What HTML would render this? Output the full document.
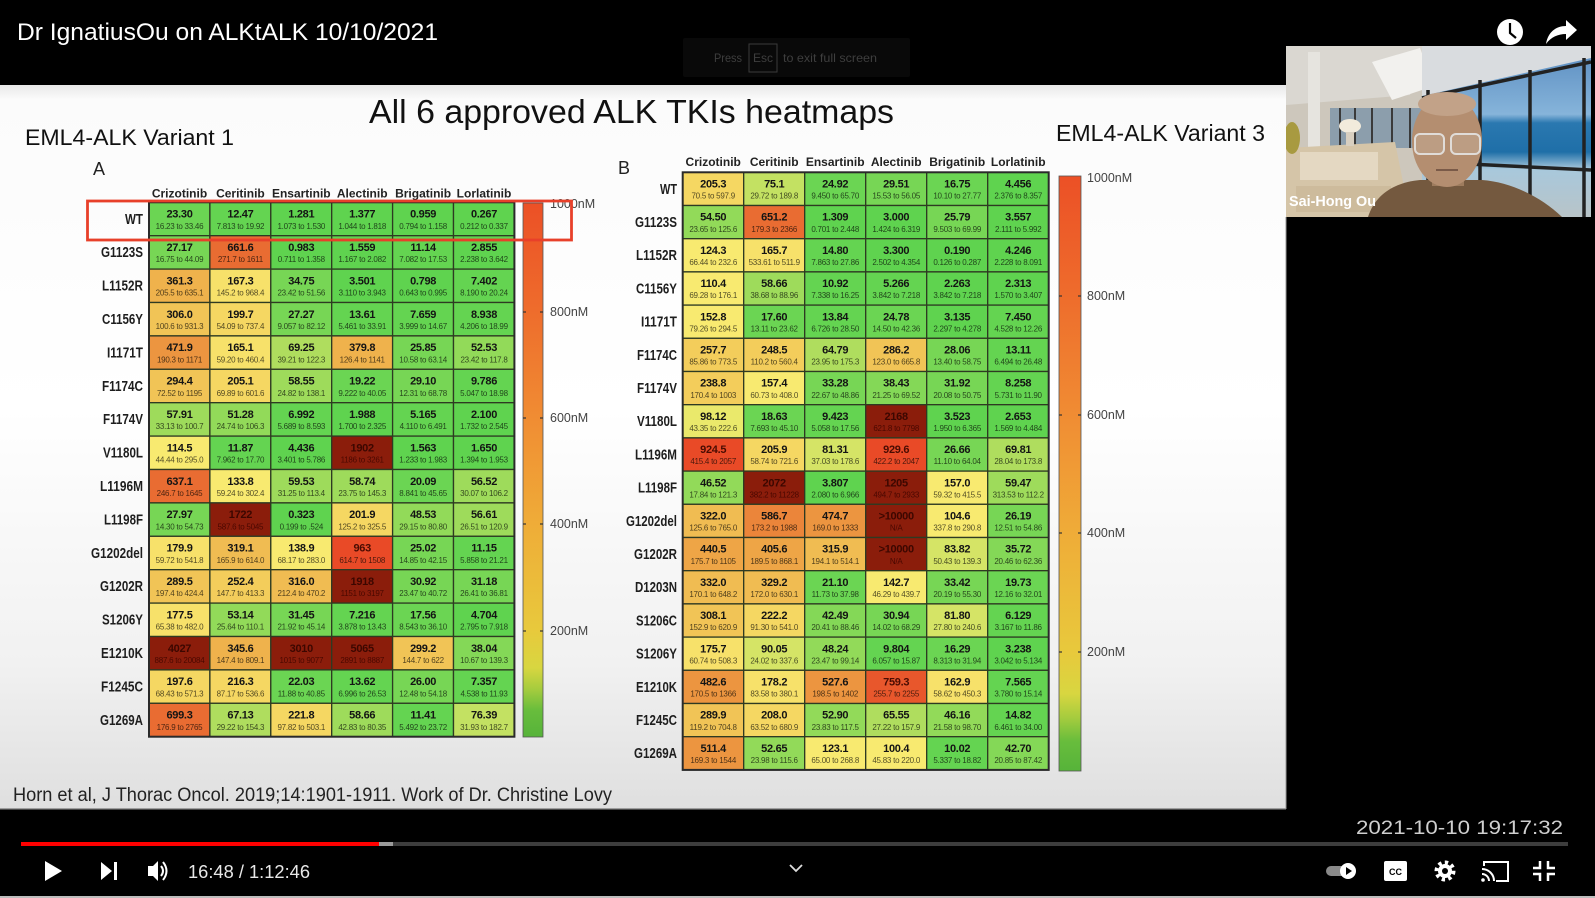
<!DOCTYPE html>
<html><head><meta charset="utf-8"><style>
body{margin:0;background:#000;width:1595px;height:898px;overflow:hidden}
svg{display:block}
text{font-family:"Liberation Sans",sans-serif}
.v{font-weight:bold;font-size:11px;fill:#141414;text-anchor:middle;letter-spacing:-0.3px}
.r{font-size:8px;fill:#000;fill-opacity:.68;text-anchor:middle;letter-spacing:-0.25px}
.vd{fill:#3c0700}.rd{fill:#4a0800;fill-opacity:1}.vr{fill:#4a0c02}
.l{font-weight:bold;font-size:14.5px;fill:#1e1e1e;text-anchor:end}
.h{font-weight:bold;font-size:12px;fill:#222;text-anchor:middle}
.c{stroke:#2e3a22;stroke-width:1.3}
.cb{font-size:12.5px;fill:#444}
.g0{fill:#5fd34f}.g1{fill:#64d451}.g2{fill:#6bd553}.g3{fill:#77d655}.g4{fill:#84d857}.g5{fill:#92da59}.g6{fill:#9edb5b}.g7{fill:#afdd5e}.g8{fill:#c3e162}.g9{fill:#d5e466}.g10{fill:#eae96b}
.y1{fill:#f8ea70}.y2{fill:#f7e16a}.y3{fill:#f5d762}.y4{fill:#f3cd5b}.y5{fill:#f1c456}.y6{fill:#f0bc52}
.o1{fill:#efb24c}.o2{fill:#eea546}.o3{fill:#ec9540}.o4{fill:#eb853a}.o5{fill:#e96c32}.r1{fill:#e8572c}.r2{fill:#e94a27}.d{fill:#8b1d0b}
</style></head><body>
<svg width="1595" height="898" viewBox="0 0 1595 898" xmlns="http://www.w3.org/2000/svg">
<defs>
<linearGradient id="sl" x1="0" y1="0" x2="0" y2="1">
<stop offset="0" stop-color="#e8e8e8"/><stop offset="0.02" stop-color="#fbfbfb"/><stop offset="0.45" stop-color="#ffffff"/><stop offset="0.8" stop-color="#f1f1f1"/><stop offset="1" stop-color="#dfdfdf"/>
</linearGradient>
<linearGradient id="cbg" x1="0" y1="1" x2="0" y2="0">
<stop offset="0" stop-color="#56b33a"/><stop offset="0.05" stop-color="#68bd3c"/><stop offset="0.09" stop-color="#a6cc3e"/><stop offset="0.13" stop-color="#d8d640"/><stop offset="0.2" stop-color="#e8c93c"/><stop offset="0.4" stop-color="#efac38"/><stop offset="0.6" stop-color="#f08c33"/><stop offset="0.8" stop-color="#ee6c2c"/><stop offset="1" stop-color="#ec5026"/>
</linearGradient>
<linearGradient id="sky" x1="0" y1="0" x2="0" y2="1">
<stop offset="0" stop-color="#5a8cc0"/><stop offset="0.4" stop-color="#86b4da"/><stop offset="0.45" stop-color="#2a78b0"/><stop offset="0.62" stop-color="#1f6fa8"/><stop offset="0.72" stop-color="#a8c8dc"/><stop offset="1" stop-color="#b8c4c8"/>
</linearGradient>
<clipPath id="cam"><rect x="1286" y="46" width="305" height="171"/></clipPath>
</defs>

<!-- top bar -->
<rect x="0" y="0" width="1595" height="898" fill="#000"/>
<text x="17" y="40" font-size="24" fill="#fff" textLength="421" lengthAdjust="spacingAndGlyphs">Dr IgnatiusOu on ALKtALK 10/10/2021</text>
<rect x="683" y="38" width="227" height="39" fill="#090909" rx="2"/>
<text x="714" y="62" font-size="12" fill="#3e3e3e" textLength="28" lengthAdjust="spacingAndGlyphs">Press</text>
<rect x="749" y="44" width="28" height="28" fill="none" stroke="#3a3a3a" stroke-width="1"/>
<text x="763" y="62" font-size="12" fill="#3e3e3e" text-anchor="middle">Esc</text>
<text x="783" y="62" font-size="12" fill="#3e3e3e" textLength="94" lengthAdjust="spacingAndGlyphs">to exit full screen</text>

<!-- clock & share -->
<circle cx="1510" cy="32" r="13" fill="#fff"/>
<path d="M1510 23 V33 L1516 38" stroke="#000" stroke-width="2.2" fill="none"/>
<path d="M1546 44 C1548 32 1556 26 1566 26 V20 L1577 30 L1566 40 V34 C1558 34 1551 37 1546 44 Z" fill="#fff"/>

<!-- slide -->
<rect x="0" y="85" width="1286" height="724" fill="url(#sl)"/>
<line x1="0" y1="809" x2="1286" y2="809" stroke="#777" stroke-width="1.2"/>
<line x1="1286" y1="217" x2="1286" y2="809" stroke="#999" stroke-width="1"/>

<text x="369" y="123" font-size="33" fill="#111" textLength="525" lengthAdjust="spacingAndGlyphs">All 6 approved ALK TKIs heatmaps</text>
<text x="25" y="145" font-size="22" fill="#111" textLength="209" lengthAdjust="spacingAndGlyphs">EML4-ALK Variant 1</text>
<text x="1056" y="141" font-size="23" fill="#111" textLength="209" lengthAdjust="spacingAndGlyphs">EML4-ALK Variant 3</text>
<text x="93" y="175" font-size="18" fill="#222">A</text>
<text x="618" y="174" font-size="18" fill="#222">B</text>
<text x="13" y="801" font-size="19" fill="#222" textLength="599" lengthAdjust="spacingAndGlyphs">Horn et al, J Thorac Oncol. 2019;14:1901-1911. Work of Dr. Christine Lovy</text>

<!-- Heatmap A headers -->
<text class="h" x="179.5" y="197.5">Crizotinib</text>
<text class="h" x="240.4" y="197.5">Ceritinib</text>
<text class="h" x="301.3" y="197.5">Ensartinib</text>
<text class="h" x="362.2" y="197.5">Alectinib</text>
<text class="h" x="423.1" y="197.5">Brigatinib</text>
<text class="h" x="484" y="197.5">Lorlatinib</text>

<!-- Heatmap A rows -->
<g transform="translate(0,202.3)"><text class="l" x="143" y="21.5" textLength="18" lengthAdjust="spacingAndGlyphs">WT</text>
<rect class="c g2" x="149" width="60.9" height="33.4"/><text class="v" x="179.5" y="15.3">23.30</text><text class="r" x="179.5" y="26.5">16.23 to 33.46</text>
<rect class="c g1" x="209.9" width="60.9" height="33.4"/><text class="v" x="240.4" y="15.3">12.47</text><text class="r" x="240.4" y="26.5">7.813 to 19.92</text>
<rect class="c g0" x="270.8" width="60.9" height="33.4"/><text class="v" x="301.3" y="15.3">1.281</text><text class="r" x="301.3" y="26.5">1.073 to 1.530</text>
<rect class="c g0" x="331.7" width="60.9" height="33.4"/><text class="v" x="362.2" y="15.3">1.377</text><text class="r" x="362.2" y="26.5">1.044 to 1.818</text>
<rect class="c g0" x="392.6" width="60.9" height="33.4"/><text class="v" x="423.1" y="15.3">0.959</text><text class="r" x="423.1" y="26.5">0.794 to 1.158</text>
<rect class="c g0" x="453.5" width="60.9" height="33.4"/><text class="v" x="484" y="15.3">0.267</text><text class="r" x="484" y="26.5">0.212 to 0.337</text>
</g>
<g transform="translate(0,235.7)"><text class="l" x="143" y="21.5" textLength="42" lengthAdjust="spacingAndGlyphs">G1123S</text>
<rect class="c g3" x="149" width="60.9" height="33.4"/><text class="v" x="179.5" y="15.3">27.17</text><text class="r" x="179.5" y="26.5">16.75 to 44.09</text>
<rect class="c o5" x="209.9" width="60.9" height="33.4"/><text class="v" x="240.4" y="15.3">661.6</text><text class="r" x="240.4" y="26.5">271.7 to 1611</text>
<rect class="c g0" x="270.8" width="60.9" height="33.4"/><text class="v" x="301.3" y="15.3">0.983</text><text class="r" x="301.3" y="26.5">0.711 to 1.358</text>
<rect class="c g0" x="331.7" width="60.9" height="33.4"/><text class="v" x="362.2" y="15.3">1.559</text><text class="r" x="362.2" y="26.5">1.167 to 2.082</text>
<rect class="c g1" x="392.6" width="60.9" height="33.4"/><text class="v" x="423.1" y="15.3">11.14</text><text class="r" x="423.1" y="26.5">7.082 to 17.53</text>
<rect class="c g0" x="453.5" width="60.9" height="33.4"/><text class="v" x="484" y="15.3">2.855</text><text class="r" x="484" y="26.5">2.238 to 3.642</text>
</g>
<g transform="translate(0,269.1)"><text class="l" x="143" y="21.5" textLength="41" lengthAdjust="spacingAndGlyphs">L1152R</text>
<rect class="c o1" x="149" width="60.9" height="33.4"/><text class="v" x="179.5" y="15.3">361.3</text><text class="r" x="179.5" y="26.5">205.5 to 635.1</text>
<rect class="c y2" x="209.9" width="60.9" height="33.4"/><text class="v" x="240.4" y="15.3">167.3</text><text class="r" x="240.4" y="26.5">145.2 to 968.4</text>
<rect class="c g3" x="270.8" width="60.9" height="33.4"/><text class="v" x="301.3" y="15.3">34.75</text><text class="r" x="301.3" y="26.5">23.42 to 51.56</text>
<rect class="c g0" x="331.7" width="60.9" height="33.4"/><text class="v" x="362.2" y="15.3">3.501</text><text class="r" x="362.2" y="26.5">3.110 to 3.943</text>
<rect class="c g0" x="392.6" width="60.9" height="33.4"/><text class="v" x="423.1" y="15.3">0.798</text><text class="r" x="423.1" y="26.5">0.643 to 0.995</text>
<rect class="c g1" x="453.5" width="60.9" height="33.4"/><text class="v" x="484" y="15.3">7.402</text><text class="r" x="484" y="26.5">8.190 to 20.24</text>
</g>
<g transform="translate(0,302.5)"><text class="l" x="143" y="21.5" textLength="41" lengthAdjust="spacingAndGlyphs">C1156Y</text>
<rect class="c y5" x="149" width="60.9" height="33.4"/><text class="v" x="179.5" y="15.3">306.0</text><text class="r" x="179.5" y="26.5">100.6 to 931.3</text>
<rect class="c y3" x="209.9" width="60.9" height="33.4"/><text class="v" x="240.4" y="15.3">199.7</text><text class="r" x="240.4" y="26.5">54.09 to 737.4</text>
<rect class="c g3" x="270.8" width="60.9" height="33.4"/><text class="v" x="301.3" y="15.3">27.27</text><text class="r" x="301.3" y="26.5">9.057 to 82.12</text>
<rect class="c g1" x="331.7" width="60.9" height="33.4"/><text class="v" x="362.2" y="15.3">13.61</text><text class="r" x="362.2" y="26.5">5.461 to 33.91</text>
<rect class="c g1" x="392.6" width="60.9" height="33.4"/><text class="v" x="423.1" y="15.3">7.659</text><text class="r" x="423.1" y="26.5">3.999 to 14.67</text>
<rect class="c g1" x="453.5" width="60.9" height="33.4"/><text class="v" x="484" y="15.3">8.938</text><text class="r" x="484" y="26.5">4.206 to 18.99</text>
</g>
<g transform="translate(0,335.9)"><text class="l" x="143" y="21.5" textLength="36" lengthAdjust="spacingAndGlyphs">I1171T</text>
<rect class="c o3" x="149" width="60.9" height="33.4"/><text class="v" x="179.5" y="15.3">471.9</text><text class="r" x="179.5" y="26.5">190.3 to 1171</text>
<rect class="c y2" x="209.9" width="60.9" height="33.4"/><text class="v" x="240.4" y="15.3">165.1</text><text class="r" x="240.4" y="26.5">59.20 to 460.4</text>
<rect class="c g7" x="270.8" width="60.9" height="33.4"/><text class="v" x="301.3" y="15.3">69.25</text><text class="r" x="301.3" y="26.5">39.21 to 122.3</text>
<rect class="c o1" x="331.7" width="60.9" height="33.4"/><text class="v" x="362.2" y="15.3">379.8</text><text class="r" x="362.2" y="26.5">126.4 to 1141</text>
<rect class="c g3" x="392.6" width="60.9" height="33.4"/><text class="v" x="423.1" y="15.3">25.85</text><text class="r" x="423.1" y="26.5">10.58 to 63.14</text>
<rect class="c g5" x="453.5" width="60.9" height="33.4"/><text class="v" x="484" y="15.3">52.53</text><text class="r" x="484" y="26.5">23.42 to 117.8</text>
</g>
<g transform="translate(0,369.3)"><text class="l" x="143" y="21.5" textLength="41" lengthAdjust="spacingAndGlyphs">F1174C</text>
<rect class="c y5" x="149" width="60.9" height="33.4"/><text class="v" x="179.5" y="15.3">294.4</text><text class="r" x="179.5" y="26.5">72.52 to 1195</text>
<rect class="c y3" x="209.9" width="60.9" height="33.4"/><text class="v" x="240.4" y="15.3">205.1</text><text class="r" x="240.4" y="26.5">69.89 to 601.6</text>
<rect class="c g6" x="270.8" width="60.9" height="33.4"/><text class="v" x="301.3" y="15.3">58.55</text><text class="r" x="301.3" y="26.5">24.82 to 138.1</text>
<rect class="c g2" x="331.7" width="60.9" height="33.4"/><text class="v" x="362.2" y="15.3">19.22</text><text class="r" x="362.2" y="26.5">9.222 to 40.05</text>
<rect class="c g3" x="392.6" width="60.9" height="33.4"/><text class="v" x="423.1" y="15.3">29.10</text><text class="r" x="423.1" y="26.5">12.31 to 68.78</text>
<rect class="c g1" x="453.5" width="60.9" height="33.4"/><text class="v" x="484" y="15.3">9.786</text><text class="r" x="484" y="26.5">5.047 to 18.98</text>
</g>
<g transform="translate(0,402.7)"><text class="l" x="143" y="21.5" textLength="40" lengthAdjust="spacingAndGlyphs">F1174V</text>
<rect class="c g6" x="149" width="60.9" height="33.4"/><text class="v" x="179.5" y="15.3">57.91</text><text class="r" x="179.5" y="26.5">33.13 to 100.7</text>
<rect class="c g5" x="209.9" width="60.9" height="33.4"/><text class="v" x="240.4" y="15.3">51.28</text><text class="r" x="240.4" y="26.5">24.74 to 106.3</text>
<rect class="c g1" x="270.8" width="60.9" height="33.4"/><text class="v" x="301.3" y="15.3">6.992</text><text class="r" x="301.3" y="26.5">5.689 to 8.593</text>
<rect class="c g0" x="331.7" width="60.9" height="33.4"/><text class="v" x="362.2" y="15.3">1.988</text><text class="r" x="362.2" y="26.5">1.700 to 2.325</text>
<rect class="c g1" x="392.6" width="60.9" height="33.4"/><text class="v" x="423.1" y="15.3">5.165</text><text class="r" x="423.1" y="26.5">4.110 to 6.491</text>
<rect class="c g0" x="453.5" width="60.9" height="33.4"/><text class="v" x="484" y="15.3">2.100</text><text class="r" x="484" y="26.5">1.732 to 2.545</text>
</g>
<g transform="translate(0,436.1)"><text class="l" x="143" y="21.5" textLength="40" lengthAdjust="spacingAndGlyphs">V1180L</text>
<rect class="c y1" x="149" width="60.9" height="33.4"/><text class="v" x="179.5" y="15.3">114.5</text><text class="r" x="179.5" y="26.5">44.44 to 295.0</text>
<rect class="c g1" x="209.9" width="60.9" height="33.4"/><text class="v" x="240.4" y="15.3">11.87</text><text class="r" x="240.4" y="26.5">7.962 to 17.70</text>
<rect class="c g0" x="270.8" width="60.9" height="33.4"/><text class="v" x="301.3" y="15.3">4.436</text><text class="r" x="301.3" y="26.5">3.401 to 5.786</text>
<rect class="c d" x="331.7" width="60.9" height="33.4"/><text class="v vd" x="362.2" y="15.3">1902</text><text class="r rd" x="362.2" y="26.5">1186 to 3261</text>
<rect class="c g0" x="392.6" width="60.9" height="33.4"/><text class="v" x="423.1" y="15.3">1.563</text><text class="r" x="423.1" y="26.5">1.233 to 1.983</text>
<rect class="c g0" x="453.5" width="60.9" height="33.4"/><text class="v" x="484" y="15.3">1.650</text><text class="r" x="484" y="26.5">1.394 to 1.953</text>
</g>
<g transform="translate(0,469.5)"><text class="l" x="143" y="21.5" textLength="43" lengthAdjust="spacingAndGlyphs">L1196M</text>
<rect class="c o5" x="149" width="60.9" height="33.4"/><text class="v" x="179.5" y="15.3">637.1</text><text class="r" x="179.5" y="26.5">246.7 to 1645</text>
<rect class="c y1" x="209.9" width="60.9" height="33.4"/><text class="v" x="240.4" y="15.3">133.8</text><text class="r" x="240.4" y="26.5">59.24 to 302.4</text>
<rect class="c g6" x="270.8" width="60.9" height="33.4"/><text class="v" x="301.3" y="15.3">59.53</text><text class="r" x="301.3" y="26.5">31.25 to 113.4</text>
<rect class="c g6" x="331.7" width="60.9" height="33.4"/><text class="v" x="362.2" y="15.3">58.74</text><text class="r" x="362.2" y="26.5">23.75 to 145.3</text>
<rect class="c g2" x="392.6" width="60.9" height="33.4"/><text class="v" x="423.1" y="15.3">20.09</text><text class="r" x="423.1" y="26.5">8.841 to 45.65</text>
<rect class="c g6" x="453.5" width="60.9" height="33.4"/><text class="v" x="484" y="15.3">56.52</text><text class="r" x="484" y="26.5">30.07 to 106.2</text>
</g>
<g transform="translate(0,502.9)"><text class="l" x="143" y="21.5" textLength="39" lengthAdjust="spacingAndGlyphs">L1198F</text>
<rect class="c g3" x="149" width="60.9" height="33.4"/><text class="v" x="179.5" y="15.3">27.97</text><text class="r" x="179.5" y="26.5">14.30 to 54.73</text>
<rect class="c d" x="209.9" width="60.9" height="33.4"/><text class="v vd" x="240.4" y="15.3">1722</text><text class="r rd" x="240.4" y="26.5">587.6 to 5045</text>
<rect class="c g0" x="270.8" width="60.9" height="33.4"/><text class="v" x="301.3" y="15.3">0.323</text><text class="r" x="301.3" y="26.5">0.199 to .524</text>
<rect class="c y3" x="331.7" width="60.9" height="33.4"/><text class="v" x="362.2" y="15.3">201.9</text><text class="r" x="362.2" y="26.5">125.2 to 325.5</text>
<rect class="c g5" x="392.6" width="60.9" height="33.4"/><text class="v" x="423.1" y="15.3">48.53</text><text class="r" x="423.1" y="26.5">29.15 to 80.80</text>
<rect class="c g6" x="453.5" width="60.9" height="33.4"/><text class="v" x="484" y="15.3">56.61</text><text class="r" x="484" y="26.5">26.51 to 120.9</text>
</g>
<g transform="translate(0,536.3)"><text class="l" x="143" y="21.5" textLength="52" lengthAdjust="spacingAndGlyphs">G1202del</text>
<rect class="c y2" x="149" width="60.9" height="33.4"/><text class="v" x="179.5" y="15.3">179.9</text><text class="r" x="179.5" y="26.5">59.72 to 541.8</text>
<rect class="c y6" x="209.9" width="60.9" height="33.4"/><text class="v" x="240.4" y="15.3">319.1</text><text class="r" x="240.4" y="26.5">165.9 to 614.0</text>
<rect class="c y1" x="270.8" width="60.9" height="33.4"/><text class="v" x="301.3" y="15.3">138.9</text><text class="r" x="301.3" y="26.5">68.17 to 283.0</text>
<rect class="c r2" x="331.7" width="60.9" height="33.4"/><text class="v vr" x="362.2" y="15.3">963</text><text class="r" x="362.2" y="26.5">614.7 to 1508</text>
<rect class="c g3" x="392.6" width="60.9" height="33.4"/><text class="v" x="423.1" y="15.3">25.02</text><text class="r" x="423.1" y="26.5">14.85 to 42.15</text>
<rect class="c g1" x="453.5" width="60.9" height="33.4"/><text class="v" x="484" y="15.3">11.15</text><text class="r" x="484" y="26.5">5.858 to 21.21</text>
</g>
<g transform="translate(0,569.7)"><text class="l" x="143" y="21.5" textLength="43" lengthAdjust="spacingAndGlyphs">G1202R</text>
<rect class="c y5" x="149" width="60.9" height="33.4"/><text class="v" x="179.5" y="15.3">289.5</text><text class="r" x="179.5" y="26.5">197.4 to 424.4</text>
<rect class="c y4" x="209.9" width="60.9" height="33.4"/><text class="v" x="240.4" y="15.3">252.4</text><text class="r" x="240.4" y="26.5">147.7 to 413.3</text>
<rect class="c y6" x="270.8" width="60.9" height="33.4"/><text class="v" x="301.3" y="15.3">316.0</text><text class="r" x="301.3" y="26.5">212.4 to 470.2</text>
<rect class="c d" x="331.7" width="60.9" height="33.4"/><text class="v vd" x="362.2" y="15.3">1918</text><text class="r rd" x="362.2" y="26.5">1151 to 3197</text>
<rect class="c g3" x="392.6" width="60.9" height="33.4"/><text class="v" x="423.1" y="15.3">30.92</text><text class="r" x="423.1" y="26.5">23.47 to 40.72</text>
<rect class="c g3" x="453.5" width="60.9" height="33.4"/><text class="v" x="484" y="15.3">31.18</text><text class="r" x="484" y="26.5">26.41 to 36.81</text>
</g>
<g transform="translate(0,603.1)"><text class="l" x="143" y="21.5" textLength="41" lengthAdjust="spacingAndGlyphs">S1206Y</text>
<rect class="c y2" x="149" width="60.9" height="33.4"/><text class="v" x="179.5" y="15.3">177.5</text><text class="r" x="179.5" y="26.5">65.38 to 482.0</text>
<rect class="c g5" x="209.9" width="60.9" height="33.4"/><text class="v" x="240.4" y="15.3">53.14</text><text class="r" x="240.4" y="26.5">25.64 to 110.1</text>
<rect class="c g3" x="270.8" width="60.9" height="33.4"/><text class="v" x="301.3" y="15.3">31.45</text><text class="r" x="301.3" y="26.5">21.92 to 45.14</text>
<rect class="c g1" x="331.7" width="60.9" height="33.4"/><text class="v" x="362.2" y="15.3">7.216</text><text class="r" x="362.2" y="26.5">3.878 to 13.43</text>
<rect class="c g2" x="392.6" width="60.9" height="33.4"/><text class="v" x="423.1" y="15.3">17.56</text><text class="r" x="423.1" y="26.5">8.543 to 36.10</text>
<rect class="c g0" x="453.5" width="60.9" height="33.4"/><text class="v" x="484" y="15.3">4.704</text><text class="r" x="484" y="26.5">2.795 to 7.918</text>
</g>
<g transform="translate(0,636.5)"><text class="l" x="143" y="21.5" textLength="42" lengthAdjust="spacingAndGlyphs">E1210K</text>
<rect class="c d" x="149" width="60.9" height="33.4"/><text class="v vd" x="179.5" y="15.3">4027</text><text class="r rd" x="179.5" y="26.5">887.6 to 20084</text>
<rect class="c o1" x="209.9" width="60.9" height="33.4"/><text class="v" x="240.4" y="15.3">345.6</text><text class="r" x="240.4" y="26.5">147.4 to 809.1</text>
<rect class="c d" x="270.8" width="60.9" height="33.4"/><text class="v vd" x="301.3" y="15.3">3010</text><text class="r rd" x="301.3" y="26.5">1015 to 9077</text>
<rect class="c d" x="331.7" width="60.9" height="33.4"/><text class="v vd" x="362.2" y="15.3">5065</text><text class="r rd" x="362.2" y="26.5">2891 to 8887</text>
<rect class="c y5" x="392.6" width="60.9" height="33.4"/><text class="v" x="423.1" y="15.3">299.2</text><text class="r" x="423.1" y="26.5">144.7 to 622</text>
<rect class="c g4" x="453.5" width="60.9" height="33.4"/><text class="v" x="484" y="15.3">38.04</text><text class="r" x="484" y="26.5">10.67 to 139.3</text>
</g>
<g transform="translate(0,669.9)"><text class="l" x="143" y="21.5" textLength="42" lengthAdjust="spacingAndGlyphs">F1245C</text>
<rect class="c y3" x="149" width="60.9" height="33.4"/><text class="v" x="179.5" y="15.3">197.6</text><text class="r" x="179.5" y="26.5">68.43 to 571.3</text>
<rect class="c y3" x="209.9" width="60.9" height="33.4"/><text class="v" x="240.4" y="15.3">216.3</text><text class="r" x="240.4" y="26.5">87.17 to 536.6</text>
<rect class="c g2" x="270.8" width="60.9" height="33.4"/><text class="v" x="301.3" y="15.3">22.03</text><text class="r" x="301.3" y="26.5">11.88 to 40.85</text>
<rect class="c g1" x="331.7" width="60.9" height="33.4"/><text class="v" x="362.2" y="15.3">13.62</text><text class="r" x="362.2" y="26.5">6.996 to 26.53</text>
<rect class="c g3" x="392.6" width="60.9" height="33.4"/><text class="v" x="423.1" y="15.3">26.00</text><text class="r" x="423.1" y="26.5">12.48 to 54.18</text>
<rect class="c g1" x="453.5" width="60.9" height="33.4"/><text class="v" x="484" y="15.3">7.357</text><text class="r" x="484" y="26.5">4.538 to 11.93</text>
</g>
<g transform="translate(0,703.3)"><text class="l" x="143" y="21.5" textLength="43" lengthAdjust="spacingAndGlyphs">G1269A</text>
<rect class="c o5" x="149" width="60.9" height="33.4"/><text class="v" x="179.5" y="15.3">699.3</text><text class="r" x="179.5" y="26.5">176.9 to 2765</text>
<rect class="c g7" x="209.9" width="60.9" height="33.4"/><text class="v" x="240.4" y="15.3">67.13</text><text class="r" x="240.4" y="26.5">29.22 to 154.3</text>
<rect class="c y3" x="270.8" width="60.9" height="33.4"/><text class="v" x="301.3" y="15.3">221.8</text><text class="r" x="301.3" y="26.5">97.82 to 503.1</text>
<rect class="c g6" x="331.7" width="60.9" height="33.4"/><text class="v" x="362.2" y="15.3">58.66</text><text class="r" x="362.2" y="26.5">42.83 to 80.35</text>
<rect class="c g1" x="392.6" width="60.9" height="33.4"/><text class="v" x="423.1" y="15.3">11.41</text><text class="r" x="423.1" y="26.5">5.492 to 23.72</text>
<rect class="c g8" x="453.5" width="60.9" height="33.4"/><text class="v" x="484" y="15.3">76.39</text><text class="r" x="484" y="26.5">31.93 to 182.7</text>
</g>
<rect x="149" y="202.3" width="365.4" height="534.4" fill="none" stroke="#2a2a2a" stroke-width="2"/>

<!-- colorbar A -->
<rect x="523" y="203" width="20" height="534" fill="url(#cbg)" stroke="#555" stroke-width="0.8"/>
<g stroke="#333" stroke-width="1.2">
<line x1="523" y1="312" x2="526" y2="312"/><line x1="540" y1="312" x2="543" y2="312"/>
<line x1="523" y1="418" x2="526" y2="418"/><line x1="540" y1="418" x2="543" y2="418"/>
<line x1="523" y1="524" x2="526" y2="524"/><line x1="540" y1="524" x2="543" y2="524"/>
<line x1="523" y1="631" x2="526" y2="631"/><line x1="540" y1="631" x2="543" y2="631"/>
</g>
<text class="cb" x="550" y="208">1000nM</text>
<text class="cb" x="550" y="316">800nM</text>
<text class="cb" x="550" y="422">600nM</text>
<text class="cb" x="550" y="528">400nM</text>
<text class="cb" x="550" y="635">200nM</text>

<!-- red box -->
<rect x="87.5" y="201" width="484" height="39" fill="none" stroke="#e8402a" stroke-width="2.8"/>

<!-- Heatmap B headers -->
<text class="h" x="713.2" y="166">Crizotinib</text>
<text class="h" x="774.2" y="166">Ceritinib</text>
<text class="h" x="835.2" y="166">Ensartinib</text>
<text class="h" x="896.2" y="166">Alectinib</text>
<text class="h" x="957.2" y="166">Brigatinib</text>
<text class="h" x="1018.2" y="166">Lorlatinib</text>

<!-- Heatmap B rows -->
<g transform="translate(0,172.3)"><text class="l" x="677" y="21.5" textLength="17" lengthAdjust="spacingAndGlyphs">WT</text>
<rect class="c y3" x="682.7" width="61" height="33.2"/><text class="v" x="713.2" y="15.2">205.3</text><text class="r" x="713.2" y="26.3">70.5 to 597.9</text>
<rect class="c g8" x="743.7" width="61" height="33.2"/><text class="v" x="774.2" y="15.2">75.1</text><text class="r" x="774.2" y="26.3">29.72 to 189.8</text>
<rect class="c g2" x="804.7" width="61" height="33.2"/><text class="v" x="835.2" y="15.2">24.92</text><text class="r" x="835.2" y="26.3">9.450 to 65.70</text>
<rect class="c g3" x="865.7" width="61" height="33.2"/><text class="v" x="896.2" y="15.2">29.51</text><text class="r" x="896.2" y="26.3">15.53 to 56.05</text>
<rect class="c g2" x="926.7" width="61" height="33.2"/><text class="v" x="957.2" y="15.2">16.75</text><text class="r" x="957.2" y="26.3">10.10 to 27.77</text>
<rect class="c g0" x="987.7" width="61" height="33.2"/><text class="v" x="1018.2" y="15.2">4.456</text><text class="r" x="1018.2" y="26.3">2.376 to 8.357</text>
</g>
<g transform="translate(0,205.5)"><text class="l" x="677" y="21.5" textLength="42" lengthAdjust="spacingAndGlyphs">G1123S</text>
<rect class="c g5" x="682.7" width="61" height="33.2"/><text class="v" x="713.2" y="15.2">54.50</text><text class="r" x="713.2" y="26.3">23.65 to 125.6</text>
<rect class="c o5" x="743.7" width="61" height="33.2"/><text class="v" x="774.2" y="15.2">651.2</text><text class="r" x="774.2" y="26.3">179.3 to 2366</text>
<rect class="c g0" x="804.7" width="61" height="33.2"/><text class="v" x="835.2" y="15.2">1.309</text><text class="r" x="835.2" y="26.3">0.701 to 2.448</text>
<rect class="c g0" x="865.7" width="61" height="33.2"/><text class="v" x="896.2" y="15.2">3.000</text><text class="r" x="896.2" y="26.3">1.424 to 6.319</text>
<rect class="c g3" x="926.7" width="61" height="33.2"/><text class="v" x="957.2" y="15.2">25.79</text><text class="r" x="957.2" y="26.3">9.503 to 69.99</text>
<rect class="c g0" x="987.7" width="61" height="33.2"/><text class="v" x="1018.2" y="15.2">3.557</text><text class="r" x="1018.2" y="26.3">2.111 to 5.992</text>
</g>
<g transform="translate(0,238.7)"><text class="l" x="677" y="21.5" textLength="41" lengthAdjust="spacingAndGlyphs">L1152R</text>
<rect class="c y1" x="682.7" width="61" height="33.2"/><text class="v" x="713.2" y="15.2">124.3</text><text class="r" x="713.2" y="26.3">66.44 to 232.6</text>
<rect class="c y2" x="743.7" width="61" height="33.2"/><text class="v" x="774.2" y="15.2">165.7</text><text class="r" x="774.2" y="26.3">533.61 to 511.9</text>
<rect class="c g1" x="804.7" width="61" height="33.2"/><text class="v" x="835.2" y="15.2">14.80</text><text class="r" x="835.2" y="26.3">7.863 to 27.86</text>
<rect class="c g0" x="865.7" width="61" height="33.2"/><text class="v" x="896.2" y="15.2">3.300</text><text class="r" x="896.2" y="26.3">2.502 to 4.354</text>
<rect class="c g0" x="926.7" width="61" height="33.2"/><text class="v" x="957.2" y="15.2">0.190</text><text class="r" x="957.2" y="26.3">0.126 to 0.287</text>
<rect class="c g0" x="987.7" width="61" height="33.2"/><text class="v" x="1018.2" y="15.2">4.246</text><text class="r" x="1018.2" y="26.3">2.228 to 8.091</text>
</g>
<g transform="translate(0,271.9)"><text class="l" x="677" y="21.5" textLength="41" lengthAdjust="spacingAndGlyphs">C1156Y</text>
<rect class="c y1" x="682.7" width="61" height="33.2"/><text class="v" x="713.2" y="15.2">110.4</text><text class="r" x="713.2" y="26.3">69.28 to 176.1</text>
<rect class="c g6" x="743.7" width="61" height="33.2"/><text class="v" x="774.2" y="15.2">58.66</text><text class="r" x="774.2" y="26.3">38.68 to 88.96</text>
<rect class="c g1" x="804.7" width="61" height="33.2"/><text class="v" x="835.2" y="15.2">10.92</text><text class="r" x="835.2" y="26.3">7.338 to 16.25</text>
<rect class="c g1" x="865.7" width="61" height="33.2"/><text class="v" x="896.2" y="15.2">5.266</text><text class="r" x="896.2" y="26.3">3.842 to 7.218</text>
<rect class="c g0" x="926.7" width="61" height="33.2"/><text class="v" x="957.2" y="15.2">2.263</text><text class="r" x="957.2" y="26.3">3.842 to 7.218</text>
<rect class="c g0" x="987.7" width="61" height="33.2"/><text class="v" x="1018.2" y="15.2">2.313</text><text class="r" x="1018.2" y="26.3">1.570 to 3.407</text>
</g>
<g transform="translate(0,305.1)"><text class="l" x="677" y="21.5" textLength="36" lengthAdjust="spacingAndGlyphs">I1171T</text>
<rect class="c y1" x="682.7" width="61" height="33.2"/><text class="v" x="713.2" y="15.2">152.8</text><text class="r" x="713.2" y="26.3">79.26 to 294.5</text>
<rect class="c g2" x="743.7" width="61" height="33.2"/><text class="v" x="774.2" y="15.2">17.60</text><text class="r" x="774.2" y="26.3">13.11 to 23.62</text>
<rect class="c g1" x="804.7" width="61" height="33.2"/><text class="v" x="835.2" y="15.2">13.84</text><text class="r" x="835.2" y="26.3">6.726 to 28.50</text>
<rect class="c g2" x="865.7" width="61" height="33.2"/><text class="v" x="896.2" y="15.2">24.78</text><text class="r" x="896.2" y="26.3">14.50 to 42.36</text>
<rect class="c g0" x="926.7" width="61" height="33.2"/><text class="v" x="957.2" y="15.2">3.135</text><text class="r" x="957.2" y="26.3">2.297 to 4.278</text>
<rect class="c g1" x="987.7" width="61" height="33.2"/><text class="v" x="1018.2" y="15.2">7.450</text><text class="r" x="1018.2" y="26.3">4.528 to 12.26</text>
</g>
<g transform="translate(0,338.3)"><text class="l" x="677" y="21.5" textLength="40" lengthAdjust="spacingAndGlyphs">F1174C</text>
<rect class="c y4" x="682.7" width="61" height="33.2"/><text class="v" x="713.2" y="15.2">257.7</text><text class="r" x="713.2" y="26.3">85.86 to 773.5</text>
<rect class="c y4" x="743.7" width="61" height="33.2"/><text class="v" x="774.2" y="15.2">248.5</text><text class="r" x="774.2" y="26.3">110.2 to 560.4</text>
<rect class="c g7" x="804.7" width="61" height="33.2"/><text class="v" x="835.2" y="15.2">64.79</text><text class="r" x="835.2" y="26.3">23.95 to 175.3</text>
<rect class="c y5" x="865.7" width="61" height="33.2"/><text class="v" x="896.2" y="15.2">286.2</text><text class="r" x="896.2" y="26.3">123.0 to 665.8</text>
<rect class="c g3" x="926.7" width="61" height="33.2"/><text class="v" x="957.2" y="15.2">28.06</text><text class="r" x="957.2" y="26.3">13.40 to 58.75</text>
<rect class="c g1" x="987.7" width="61" height="33.2"/><text class="v" x="1018.2" y="15.2">13.11</text><text class="r" x="1018.2" y="26.3">6.494 to 26.48</text>
</g>
<g transform="translate(0,371.5)"><text class="l" x="677" y="21.5" textLength="40" lengthAdjust="spacingAndGlyphs">F1174V</text>
<rect class="c y4" x="682.7" width="61" height="33.2"/><text class="v" x="713.2" y="15.2">238.8</text><text class="r" x="713.2" y="26.3">170.4 to 1003</text>
<rect class="c y1" x="743.7" width="61" height="33.2"/><text class="v" x="774.2" y="15.2">157.4</text><text class="r" x="774.2" y="26.3">60.73 to 408.0</text>
<rect class="c g3" x="804.7" width="61" height="33.2"/><text class="v" x="835.2" y="15.2">33.28</text><text class="r" x="835.2" y="26.3">22.67 to 48.86</text>
<rect class="c g4" x="865.7" width="61" height="33.2"/><text class="v" x="896.2" y="15.2">38.43</text><text class="r" x="896.2" y="26.3">21.25 to 69.52</text>
<rect class="c g3" x="926.7" width="61" height="33.2"/><text class="v" x="957.2" y="15.2">31.92</text><text class="r" x="957.2" y="26.3">20.08 to 50.75</text>
<rect class="c g1" x="987.7" width="61" height="33.2"/><text class="v" x="1018.2" y="15.2">8.258</text><text class="r" x="1018.2" y="26.3">5.731 to 11.90</text>
</g>
<g transform="translate(0,404.7)"><text class="l" x="677" y="21.5" textLength="40" lengthAdjust="spacingAndGlyphs">V1180L</text>
<rect class="c g10" x="682.7" width="61" height="33.2"/><text class="v" x="713.2" y="15.2">98.12</text><text class="r" x="713.2" y="26.3">43.35 to 222.6</text>
<rect class="c g2" x="743.7" width="61" height="33.2"/><text class="v" x="774.2" y="15.2">18.63</text><text class="r" x="774.2" y="26.3">7.693 to 45.10</text>
<rect class="c g1" x="804.7" width="61" height="33.2"/><text class="v" x="835.2" y="15.2">9.423</text><text class="r" x="835.2" y="26.3">5.058 to 17.56</text>
<rect class="c d" x="865.7" width="61" height="33.2"/><text class="v vd" x="896.2" y="15.2">2168</text><text class="r rd" x="896.2" y="26.3">621.8 to 7798</text>
<rect class="c g0" x="926.7" width="61" height="33.2"/><text class="v" x="957.2" y="15.2">3.523</text><text class="r" x="957.2" y="26.3">1.950 to 6.365</text>
<rect class="c g0" x="987.7" width="61" height="33.2"/><text class="v" x="1018.2" y="15.2">2.653</text><text class="r" x="1018.2" y="26.3">1.569 to 4.484</text>
</g>
<g transform="translate(0,437.9)"><text class="l" x="677" y="21.5" textLength="42" lengthAdjust="spacingAndGlyphs">L1196M</text>
<rect class="c r2" x="682.7" width="61" height="33.2"/><text class="v vr" x="713.2" y="15.2">924.5</text><text class="r" x="713.2" y="26.3">415.4 to 2057</text>
<rect class="c y3" x="743.7" width="61" height="33.2"/><text class="v" x="774.2" y="15.2">205.9</text><text class="r" x="774.2" y="26.3">58.74 to 721.6</text>
<rect class="c g9" x="804.7" width="61" height="33.2"/><text class="v" x="835.2" y="15.2">81.31</text><text class="r" x="835.2" y="26.3">37.03 to 178.6</text>
<rect class="c r2" x="865.7" width="61" height="33.2"/><text class="v vr" x="896.2" y="15.2">929.6</text><text class="r" x="896.2" y="26.3">422.2 to 2047</text>
<rect class="c g3" x="926.7" width="61" height="33.2"/><text class="v" x="957.2" y="15.2">26.66</text><text class="r" x="957.2" y="26.3">11.10 to 64.04</text>
<rect class="c g7" x="987.7" width="61" height="33.2"/><text class="v" x="1018.2" y="15.2">69.81</text><text class="r" x="1018.2" y="26.3">28.04 to 173.8</text>
</g>
<g transform="translate(0,471.1)"><text class="l" x="677" y="21.5" textLength="39" lengthAdjust="spacingAndGlyphs">L1198F</text>
<rect class="c g5" x="682.7" width="61" height="33.2"/><text class="v" x="713.2" y="15.2">46.52</text><text class="r" x="713.2" y="26.3">17.84 to 121.3</text>
<rect class="c d" x="743.7" width="61" height="33.2"/><text class="v vd" x="774.2" y="15.2">2072</text><text class="r rd" x="774.2" y="26.3">382.2 to 11228</text>
<rect class="c g0" x="804.7" width="61" height="33.2"/><text class="v" x="835.2" y="15.2">3.807</text><text class="r" x="835.2" y="26.3">2.080 to 6.966</text>
<rect class="c d" x="865.7" width="61" height="33.2"/><text class="v vd" x="896.2" y="15.2">1205</text><text class="r rd" x="896.2" y="26.3">494.7 to 2933</text>
<rect class="c y1" x="926.7" width="61" height="33.2"/><text class="v" x="957.2" y="15.2">157.0</text><text class="r" x="957.2" y="26.3">59.32 to 415.5</text>
<rect class="c g6" x="987.7" width="61" height="33.2"/><text class="v" x="1018.2" y="15.2">59.47</text><text class="r" x="1018.2" y="26.3">313.53 to 112.2</text>
</g>
<g transform="translate(0,504.3)"><text class="l" x="677" y="21.5" textLength="51" lengthAdjust="spacingAndGlyphs">G1202del</text>
<rect class="c y6" x="682.7" width="61" height="33.2"/><text class="v" x="713.2" y="15.2">322.0</text><text class="r" x="713.2" y="26.3">125.6 to 765.0</text>
<rect class="c o4" x="743.7" width="61" height="33.2"/><text class="v" x="774.2" y="15.2">586.7</text><text class="r" x="774.2" y="26.3">173.2 to 1988</text>
<rect class="c o3" x="804.7" width="61" height="33.2"/><text class="v" x="835.2" y="15.2">474.7</text><text class="r" x="835.2" y="26.3">169.0 to 1333</text>
<rect class="c d" x="865.7" width="61" height="33.2"/><text class="v vd" x="896.2" y="15.2">&gt;10000</text><text class="r rd" x="896.2" y="26.3">N/A</text>
<rect class="c y1" x="926.7" width="61" height="33.2"/><text class="v" x="957.2" y="15.2">104.6</text><text class="r" x="957.2" y="26.3">337.8 to 290.8</text>
<rect class="c g3" x="987.7" width="61" height="33.2"/><text class="v" x="1018.2" y="15.2">26.19</text><text class="r" x="1018.2" y="26.3">12.51 to 54.86</text>
</g>
<g transform="translate(0,537.5)"><text class="l" x="677" y="21.5" textLength="43" lengthAdjust="spacingAndGlyphs">G1202R</text>
<rect class="c o2" x="682.7" width="61" height="33.2"/><text class="v" x="713.2" y="15.2">440.5</text><text class="r" x="713.2" y="26.3">175.7 to 1105</text>
<rect class="c o2" x="743.7" width="61" height="33.2"/><text class="v" x="774.2" y="15.2">405.6</text><text class="r" x="774.2" y="26.3">189.5 to 868.1</text>
<rect class="c y6" x="804.7" width="61" height="33.2"/><text class="v" x="835.2" y="15.2">315.9</text><text class="r" x="835.2" y="26.3">194.1 to 514.1</text>
<rect class="c d" x="865.7" width="61" height="33.2"/><text class="v vd" x="896.2" y="15.2">&gt;10000</text><text class="r rd" x="896.2" y="26.3">N/A</text>
<rect class="c g9" x="926.7" width="61" height="33.2"/><text class="v" x="957.2" y="15.2">83.82</text><text class="r" x="957.2" y="26.3">50.43 to 139.3</text>
<rect class="c g4" x="987.7" width="61" height="33.2"/><text class="v" x="1018.2" y="15.2">35.72</text><text class="r" x="1018.2" y="26.3">20.46 to 62.36</text>
</g>
<g transform="translate(0,570.7)"><text class="l" x="677" y="21.5" textLength="42" lengthAdjust="spacingAndGlyphs">D1203N</text>
<rect class="c y6" x="682.7" width="61" height="33.2"/><text class="v" x="713.2" y="15.2">332.0</text><text class="r" x="713.2" y="26.3">170.1 to 648.2</text>
<rect class="c y6" x="743.7" width="61" height="33.2"/><text class="v" x="774.2" y="15.2">329.2</text><text class="r" x="774.2" y="26.3">172.0 to 630.1</text>
<rect class="c g2" x="804.7" width="61" height="33.2"/><text class="v" x="835.2" y="15.2">21.10</text><text class="r" x="835.2" y="26.3">11.73 to 37.98</text>
<rect class="c y1" x="865.7" width="61" height="33.2"/><text class="v" x="896.2" y="15.2">142.7</text><text class="r" x="896.2" y="26.3">46.29 to 439.7</text>
<rect class="c g3" x="926.7" width="61" height="33.2"/><text class="v" x="957.2" y="15.2">33.42</text><text class="r" x="957.2" y="26.3">20.19 to 55.30</text>
<rect class="c g2" x="987.7" width="61" height="33.2"/><text class="v" x="1018.2" y="15.2">19.73</text><text class="r" x="1018.2" y="26.3">12.16 to 32.01</text>
</g>
<g transform="translate(0,603.9)"><text class="l" x="677" y="21.5" textLength="41" lengthAdjust="spacingAndGlyphs">S1206C</text>
<rect class="c y5" x="682.7" width="61" height="33.2"/><text class="v" x="713.2" y="15.2">308.1</text><text class="r" x="713.2" y="26.3">152.9 to 620.9</text>
<rect class="c y3" x="743.7" width="61" height="33.2"/><text class="v" x="774.2" y="15.2">222.2</text><text class="r" x="774.2" y="26.3">91.30 to 541.0</text>
<rect class="c g4" x="804.7" width="61" height="33.2"/><text class="v" x="835.2" y="15.2">42.49</text><text class="r" x="835.2" y="26.3">20.41 to 88.46</text>
<rect class="c g3" x="865.7" width="61" height="33.2"/><text class="v" x="896.2" y="15.2">30.94</text><text class="r" x="896.2" y="26.3">14.02 to 68.29</text>
<rect class="c g9" x="926.7" width="61" height="33.2"/><text class="v" x="957.2" y="15.2">81.80</text><text class="r" x="957.2" y="26.3">27.80 to 240.6</text>
<rect class="c g1" x="987.7" width="61" height="33.2"/><text class="v" x="1018.2" y="15.2">6.129</text><text class="r" x="1018.2" y="26.3">3.167 to 11.86</text>
</g>
<g transform="translate(0,637.1)"><text class="l" x="677" y="21.5" textLength="41" lengthAdjust="spacingAndGlyphs">S1206Y</text>
<rect class="c y2" x="682.7" width="61" height="33.2"/><text class="v" x="713.2" y="15.2">175.7</text><text class="r" x="713.2" y="26.3">60.74 to 508.3</text>
<rect class="c g9" x="743.7" width="61" height="33.2"/><text class="v" x="774.2" y="15.2">90.05</text><text class="r" x="774.2" y="26.3">24.02 to 337.6</text>
<rect class="c g5" x="804.7" width="61" height="33.2"/><text class="v" x="835.2" y="15.2">48.24</text><text class="r" x="835.2" y="26.3">23.47 to 99.14</text>
<rect class="c g1" x="865.7" width="61" height="33.2"/><text class="v" x="896.2" y="15.2">9.804</text><text class="r" x="896.2" y="26.3">6.057 to 15.87</text>
<rect class="c g2" x="926.7" width="61" height="33.2"/><text class="v" x="957.2" y="15.2">16.29</text><text class="r" x="957.2" y="26.3">8.313 to 31.94</text>
<rect class="c g0" x="987.7" width="61" height="33.2"/><text class="v" x="1018.2" y="15.2">3.238</text><text class="r" x="1018.2" y="26.3">3.042 to 5.134</text>
</g>
<g transform="translate(0,670.3)"><text class="l" x="677" y="21.5" textLength="41" lengthAdjust="spacingAndGlyphs">E1210K</text>
<rect class="c o3" x="682.7" width="61" height="33.2"/><text class="v" x="713.2" y="15.2">482.6</text><text class="r" x="713.2" y="26.3">170.5 to 1366</text>
<rect class="c y2" x="743.7" width="61" height="33.2"/><text class="v" x="774.2" y="15.2">178.2</text><text class="r" x="774.2" y="26.3">83.58 to 380.1</text>
<rect class="c o3" x="804.7" width="61" height="33.2"/><text class="v" x="835.2" y="15.2">527.6</text><text class="r" x="835.2" y="26.3">198.5 to 1402</text>
<rect class="c r1" x="865.7" width="61" height="33.2"/><text class="v vr" x="896.2" y="15.2">759.3</text><text class="r" x="896.2" y="26.3">255.7 to 2255</text>
<rect class="c y2" x="926.7" width="61" height="33.2"/><text class="v" x="957.2" y="15.2">162.9</text><text class="r" x="957.2" y="26.3">58.62 to 450.3</text>
<rect class="c g1" x="987.7" width="61" height="33.2"/><text class="v" x="1018.2" y="15.2">7.565</text><text class="r" x="1018.2" y="26.3">3.780 to 15.14</text>
</g>
<g transform="translate(0,703.5)"><text class="l" x="677" y="21.5" textLength="41" lengthAdjust="spacingAndGlyphs">F1245C</text>
<rect class="c y5" x="682.7" width="61" height="33.2"/><text class="v" x="713.2" y="15.2">289.9</text><text class="r" x="713.2" y="26.3">119.2 to 704.8</text>
<rect class="c y3" x="743.7" width="61" height="33.2"/><text class="v" x="774.2" y="15.2">208.0</text><text class="r" x="774.2" y="26.3">63.52 to 680.9</text>
<rect class="c g5" x="804.7" width="61" height="33.2"/><text class="v" x="835.2" y="15.2">52.90</text><text class="r" x="835.2" y="26.3">23.83 to 117.5</text>
<rect class="c g7" x="865.7" width="61" height="33.2"/><text class="v" x="896.2" y="15.2">65.55</text><text class="r" x="896.2" y="26.3">27.22 to 157.9</text>
<rect class="c g5" x="926.7" width="61" height="33.2"/><text class="v" x="957.2" y="15.2">46.16</text><text class="r" x="957.2" y="26.3">21.58 to 98.70</text>
<rect class="c g1" x="987.7" width="61" height="33.2"/><text class="v" x="1018.2" y="15.2">14.82</text><text class="r" x="1018.2" y="26.3">6.461 to 34.00</text>
</g>
<g transform="translate(0,736.7)"><text class="l" x="677" y="21.5" textLength="43" lengthAdjust="spacingAndGlyphs">G1269A</text>
<rect class="c o3" x="682.7" width="61" height="33.2"/><text class="v" x="713.2" y="15.2">511.4</text><text class="r" x="713.2" y="26.3">169.3 to 1544</text>
<rect class="c g5" x="743.7" width="61" height="33.2"/><text class="v" x="774.2" y="15.2">52.65</text><text class="r" x="774.2" y="26.3">23.98 to 115.6</text>
<rect class="c y1" x="804.7" width="61" height="33.2"/><text class="v" x="835.2" y="15.2">123.1</text><text class="r" x="835.2" y="26.3">65.00 to 268.8</text>
<rect class="c y1" x="865.7" width="61" height="33.2"/><text class="v" x="896.2" y="15.2">100.4</text><text class="r" x="896.2" y="26.3">45.83 to 220.0</text>
<rect class="c g1" x="926.7" width="61" height="33.2"/><text class="v" x="957.2" y="15.2">10.02</text><text class="r" x="957.2" y="26.3">5.337 to 18.82</text>
<rect class="c g4" x="987.7" width="61" height="33.2"/><text class="v" x="1018.2" y="15.2">42.70</text><text class="r" x="1018.2" y="26.3">20.85 to 87.42</text>
</g>
<rect x="682.7" y="172.3" width="366" height="597.6" fill="none" stroke="#2a2a2a" stroke-width="2"/>

<!-- colorbar B -->
<rect x="1059" y="176" width="22" height="595" fill="url(#cbg)" stroke="#555" stroke-width="0.8"/>
<g stroke="#333" stroke-width="1.2">
<line x1="1059" y1="296" x2="1062" y2="296"/><line x1="1078" y1="296" x2="1081" y2="296"/>
<line x1="1059" y1="415" x2="1062" y2="415"/><line x1="1078" y1="415" x2="1081" y2="415"/>
<line x1="1059" y1="533" x2="1062" y2="533"/><line x1="1078" y1="533" x2="1081" y2="533"/>
<line x1="1059" y1="652" x2="1062" y2="652"/><line x1="1078" y1="652" x2="1081" y2="652"/>
</g>
<text class="cb" x="1087" y="182">1000nM</text>
<text class="cb" x="1087" y="300">800nM</text>
<text class="cb" x="1087" y="419">600nM</text>
<text class="cb" x="1087" y="537">400nM</text>
<text class="cb" x="1087" y="656">200nM</text>

<!-- webcam -->
<g clip-path="url(#cam)">
<rect x="1286" y="46" width="305" height="171" fill="#cdc7bc"/>
<polygon points="1286,46 1425,46 1410,95 1286,105" fill="#dad7d1"/>
<polygon points="1372,62 1420,48 1434,86 1392,100" fill="#f2f1ee"/>
<rect x="1308" y="52" width="12" height="100" fill="#e6e4df"/>
<rect x="1330" y="108" width="92" height="40" fill="#8c9eac"/>
<g stroke="#3a3a3a" stroke-width="2"><line x1="1340" y1="108" x2="1340" y2="148"/><line x1="1355" y1="108" x2="1355" y2="148"/><line x1="1372" y1="108" x2="1372" y2="148"/><line x1="1392" y1="108" x2="1392" y2="148"/><line x1="1410" y1="108" x2="1410" y2="148"/></g>
<rect x="1422" y="46" width="169" height="171" fill="url(#sky)"/>
<polygon points="1422,46 1591,46 1591,58 1440,92 1422,96" fill="#d9dcdf"/>
<g stroke="#222" stroke-width="3.5">
<line x1="1428" y1="90" x2="1428" y2="217"/><line x1="1480" y1="80" x2="1480" y2="217"/><line x1="1530" y1="70" x2="1530" y2="217"/><line x1="1584" y1="58" x2="1584" y2="217"/>
<line x1="1422" y1="98" x2="1591" y2="62"/><line x1="1428" y1="162" x2="1591" y2="170"/>
</g>
<polygon points="1286,148 1395,142 1410,217 1286,217" fill="#d5c5a8"/>
<rect x="1300" y="152" width="78" height="28" fill="#e4d8c2"/>
<rect x="1296" y="186" width="95" height="26" fill="#cdbb9c"/>
<ellipse cx="1292" cy="138" rx="8" ry="16" fill="#a89a40"/>
<ellipse cx="1350" cy="126" rx="11" ry="7" fill="#f2ebdc"/>
<rect x="1346" y="132" width="8" height="14" fill="#d8cfc0"/>
<path d="M1368,217 C1376,192 1398,182 1420,180 L1482,180 C1510,182 1540,196 1562,217 Z" fill="#74593f"/>
<rect x="1432" y="172" width="32" height="14" fill="#9e7c5e"/>
<ellipse cx="1447" cy="141" rx="35" ry="46" fill="#b48e70"/>
<ellipse cx="1447" cy="104" rx="29" ry="12" fill="#c2a288"/>
<rect x="1415" y="134" width="29" height="20" rx="5" fill="#c8b4a0" fill-opacity=".4" stroke="#e0dcd8" stroke-width="2"/>
<rect x="1451" y="134" width="29" height="20" rx="5" fill="#c8b4a0" fill-opacity=".4" stroke="#e0dcd8" stroke-width="2"/>
<line x1="1436" y1="170" x2="1458" y2="170" stroke="#7a5a48" stroke-width="2"/>
</g>
<text x="1289" y="206" font-size="15" font-weight="bold" fill="#fff" textLength="87" lengthAdjust="spacingAndGlyphs">Sai-Hong Ou</text>

<!-- bottom controls -->
<text x="1356" y="834" font-size="19" fill="#cfcfcf" textLength="207" lengthAdjust="spacingAndGlyphs">2021-10-10 19:17:32</text>
<rect x="21" y="842" width="1547" height="4" fill="#3d3d3d"/>
<rect x="379" y="842" width="14" height="4" fill="#9a9a9a"/>
<rect x="21" y="842" width="358" height="4" fill="#f00"/>
<polygon points="45,861 62,871 45,881" fill="#fff"/>
<polygon points="101,862 112,871 101,880" fill="#fff"/>
<rect x="114" y="862" width="3" height="18" fill="#fff"/>
<polygon points="148,866 153,866 158,861 158,881 153,876 148,876" fill="#fff"/>
<path d="M161,866 Q165,871 161,876" stroke="#fff" stroke-width="2" fill="none"/>
<path d="M163,862 Q170,871 163,880" stroke="#fff" stroke-width="2" fill="none"/>
<text x="188" y="878" font-size="18" fill="#e8e8e8" textLength="122" lengthAdjust="spacingAndGlyphs">16:48 / 1:12:46</text>
<polyline points="790,865 796,871 802,865" stroke="#ddd" stroke-width="1.8" fill="none"/>
<rect x="1326" y="866" width="26" height="10" rx="5" fill="#8a8a8a"/>
<circle cx="1348" cy="871" r="8" fill="#fff"/>
<polygon points="1346,867 1352,871 1346,875" fill="#000"/>
<rect x="1384" y="861" width="23" height="20" rx="2" fill="#fff"/>
<text x="1395.5" y="875" font-size="9" font-weight="bold" fill="#000" text-anchor="middle">CC</text>
<circle cx="1445" cy="871" r="8.5" fill="none" stroke="#fff" stroke-width="4" stroke-dasharray="3.3 3.3"/>
<circle cx="1445" cy="871" r="7" fill="#fff"/>
<circle cx="1445" cy="871" r="3" fill="#000"/>
<path d="M1484,866 V862 H1508 V881 H1496" stroke="#fff" stroke-width="2" fill="none"/>
<path d="M1482,869 A12,12 0 0 1 1494,881 M1482,874 A7,7 0 0 1 1489,881" stroke="#fff" stroke-width="2" fill="none"/>
<circle cx="1483" cy="880" r="1.8" fill="#fff"/>
<path d="M1540,861 V868 H1533 M1548,861 V868 H1555 M1533,874 H1540 V881 M1555,874 H1548 V881" stroke="#fff" stroke-width="2.5" fill="none"/>
<rect x="0" y="896" width="1595" height="2" fill="#bdbdbd"/>
</svg>
</body></html>
